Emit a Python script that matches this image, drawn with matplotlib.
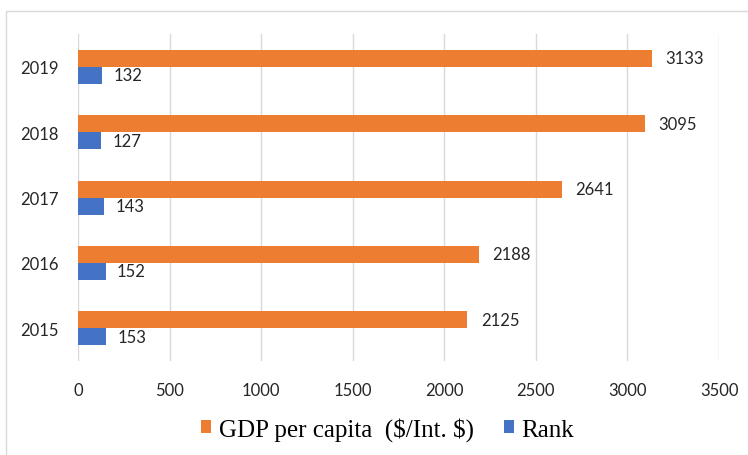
import matplotlib.pyplot as plt
import numpy as np
from matplotlib.patches import Rectangle

years = ['2015', '2016', '2017', '2018', '2019']
gdp_per_capita = [2125, 2188, 2641, 3095, 3133]
rank = [153, 152, 143, 127, 132]

orange = '#ED7D31'
blue = '#4472C4'

fig = plt.figure(figsize=(7.48, 4.56), dpi=100)
ax = fig.add_axes([0.1043, 0.206, 0.857, 0.717])

y = np.arange(len(years))
h = 0.26
ax.barh(y + h / 2, gdp_per_capita, height=h, color=orange, label=r'GDP per capita  (\$/Int. \$)', zorder=3)
ax.barh(y - h / 2, rank, height=h, color=blue, label='Rank', zorder=3)

for yi, v in zip(y, gdp_per_capita):
    ax.annotate(str(v), (v, yi + h / 2), xytext=(10, 0), textcoords='offset points',
                va='center', ha='left', fontsize=12, family='Lato', color='#262626')
for yi, v in zip(y, rank):
    ax.annotate(str(v), (v, yi - h / 2), xytext=(8, 0), textcoords='offset points',
                va='center', ha='left', fontsize=12, family='Lato', color='#262626')

ax.set_xlim(0, 3500)
ax.set_xticks(np.arange(0, 3501, 500))
ax.set_ylim(-0.5, len(years) - 0.5)
ax.set_yticks(y)
ax.set_yticklabels(years)
ax.grid(axis='x', color='#d9d9d9', linewidth=1, zorder=0)
for s in ax.spines.values():
    s.set_visible(False)
ax.tick_params(length=0, labelsize=12, colors='#262626')
ax.tick_params(axis='x', pad=15)
ax.tick_params(axis='y', pad=14)
for lab in ax.get_xticklabels() + ax.get_yticklabels():
    lab.set_family('Lato')

fig.legend(loc='center', bbox_to_anchor=(0.518, 1 - 430 / 456), ncol=2, frameon=False,
           prop={'family': 'Liberation Serif', 'size': 18}, handlelength=0.4, handleheight=0.4,
           handletextpad=0.3, columnspacing=1.2)

fig.patches.append(Rectangle((6 / 748, -0.1), 1.1, 1 - 12 / 456 + 0.1, transform=fig.transFigure,
                             fill=False, edgecolor='#d9d9d9', linewidth=1))

fig.savefig('out.png', dpi=100)
